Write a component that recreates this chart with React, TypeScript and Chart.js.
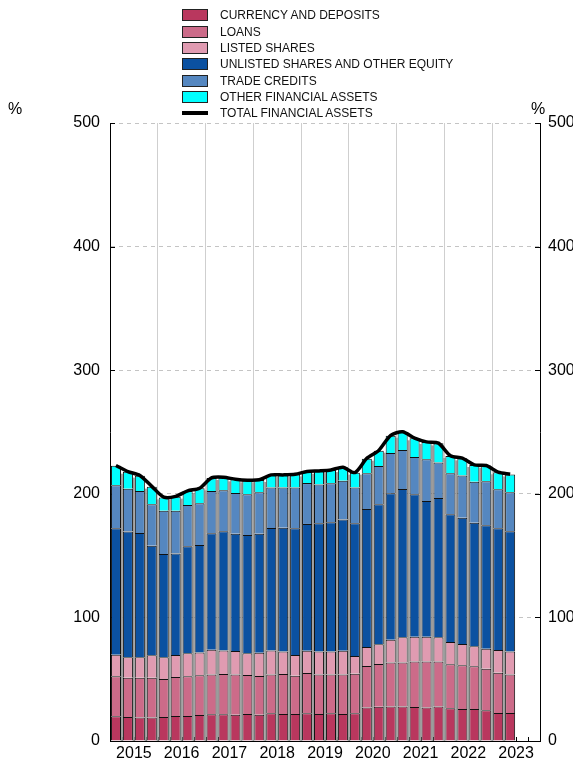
import React, { useEffect, useRef } from 'react';
import { Chart, registerables } from 'chart.js';
Chart.register(...registerables);

const quarters = [
  '2015Q1','2015Q2','2015Q3','2015Q4','2016Q1','2016Q2','2016Q3','2016Q4',
  '2017Q1','2017Q2','2017Q3','2017Q4','2018Q1','2018Q2','2018Q3','2018Q4',
  '2019Q1','2019Q2','2019Q3','2019Q4','2020Q1','2020Q2','2020Q3','2020Q4',
  '2021Q1','2021Q2','2021Q3','2021Q4','2022Q1','2022Q2','2022Q3','2022Q4',
  '2023Q1','2023Q2',
];
const yearLabels = ['2015','2016','2017','2018','2019','2020','2021','2022','2023'];
const yTicks = [0, 100, 200, 300, 400, 500];

const currency = [20.0,19.4,19.1,19.1,19.4,20.2,20.2,21.0,21.6,21.6,21.3,21.8,21.3,22.4,21.8,21.8,22.4,21.8,22.4,21.8,22.4,27.2,27.8,28.0,28.0,27.5,27.2,28.0,26.4,25.9,25.9,24.8,22.6,22.6];
const loans = [32.3,31.8,32.1,32.1,30.8,31.6,32.1,32.1,32.3,32.6,32.6,31.6,31.3,31.5,32.4,31.0,32.6,32.1,31.5,32.1,32.1,33.5,34.5,35.6,35.6,36.9,37.2,36.4,35.6,35.3,34.5,33.7,32.7,31.3];
const listed = [17.5,16.5,16.5,18.1,17.5,17.8,18.6,18.6,20.0,19.1,18.9,17.5,18.9,19.4,18.3,16.8,18.1,18.6,18.6,19.2,14.3,15.3,15.9,18.4,20.3,20.0,20.0,19.5,18.1,17.3,16.2,16.2,18.3,18.6];
const unlisted = [102.3,101.7,100.6,88.7,83.6,82.2,86.6,86.9,94.1,96.3,94.9,95.8,96.2,99.0,100.1,102.5,102.5,103.6,104.4,106.2,107.3,111.7,113.3,118.4,120.0,115.2,109.8,112.7,103.3,102.2,100.0,99.8,98.5,97.1];
const trade = [34.8,34.7,34.0,33.5,35.0,34.5,33.4,33.7,34.3,33.2,32.9,32.9,33.5,32.7,32.4,32.9,33.1,31.5,31.6,31.3,28.9,28.9,31.0,32.6,31.5,30.2,33.7,28.8,33.2,34.2,33.2,35.6,31.5,31.6];
const other = [15.8,13.8,12.4,14.3,10.8,11.4,11.4,12.1,10.5,10.5,11.1,11.3,10.0,10.2,10.2,10.7,9.2,10.8,10.7,10.8,12.1,11.8,12.4,14.0,14.6,15.1,14.0,15.4,14.0,13.8,13.5,12.7,13.8,14.5];
const total = [222.9,218.0,214.8,206.0,197.3,197.9,202.4,204.5,212.9,213.4,211.8,211.0,211.3,215.3,215.3,215.8,218.0,218.5,219.3,221.5,217.2,228.7,235.1,247.3,250.2,245.0,242.0,241.0,230.8,228.8,223.4,222.9,217.5,215.8];

const series = [
  { label: 'CURRENCY AND DEPOSITS', data: currency, color: '#B9375E' },
  { label: 'LOANS', data: loans, color: '#CC6B89' },
  { label: 'LISTED SHARES', data: listed, color: '#E09BB1' },
  { label: 'UNLISTED SHARES AND OTHER EQUITY', data: unlisted, color: '#0B51A1' },
  { label: 'TRADE CREDITS', data: trade, color: '#5587C0' },
  { label: 'OTHER FINANCIAL ASSETS', data: other, color: '#00FFFF' },
];
const totalLabel = 'TOTAL FINANCIAL ASSETS';

const FONT = '"Liberation Sans", Arial, sans-serif';

export default function App() {
  const ref = useRef<HTMLCanvasElement>(null);

  useEffect(() => {
    const canvas = ref.current!;
    const pts = (arr: number[]) => arr.map((v, i) => ({ x: i + 0.5, y: v }));

    const decor = {
      id: 'decor',
      beforeDatasetsDraw(chart: any) {
        const c = chart.ctx;
        const area = chart.chartArea;
        const xs = chart.scales.x;
        const ys = chart.scales.y;
        c.save();
        c.strokeStyle = '#000';
        c.lineWidth = 1;
        for (let k = 1; k < 36; k++) {
          const px = Math.round(xs.getPixelForValue(k)) + 0.5;
          c.beginPath();
          c.moveTo(px, area.bottom);
          c.lineTo(px, area.bottom - 4);
          c.stroke();
        }
        yTicks.forEach((v) => {
          const py = Math.round(ys.getPixelForValue(v)) + 0.5;
          c.beginPath();
          c.moveTo(area.left, py);
          c.lineTo(area.left + 5, py);
          c.moveTo(area.right, py);
          c.lineTo(area.right - 5, py);
          c.stroke();
        });
        const metas = chart.getSortedVisibleDatasetMetas().filter((m: any) => m.type === 'bar');
        const topMeta = metas[metas.length - 1];
        const els = topMeta.data;
        c.fillStyle = '#9c9c9c';
        for (let i = 0; i < els.length; i++) {
          const e = els[i];
          const left = i === 0 ? area.left + 1 : els[i - 1].x + els[i - 1].width / 2;
          const right = e.x - e.width / 2;
          if (right <= left) continue;
          const top = i === 0 ? e.y : Math.max(e.y, els[i - 1].y);
          c.fillRect(left, top + 2, right - left, area.bottom - top - 2);
        }
        c.restore();
      },
      afterDraw(chart: any) {
        const c = chart.ctx;
        c.save();
        c.fillStyle = '#000';
        c.font = `16px ${FONT}`;
        c.textAlign = 'center';
        c.textBaseline = 'middle';
        c.fillText('%', 15, 110);
        c.fillText('%', 538, 110);
        c.restore();
      },
    };

    const datasets: any[] = [
      {
        type: 'line',
        label: totalLabel,
        data: pts(total),
        borderColor: '#000',
        borderWidth: 3.5,
        pointRadius: 0,
        tension: 0.25,
        fill: false,
        xAxisID: 'x',
        yAxisID: 'y',
      },
      ...series.map((s) => ({
        type: 'bar',
        label: s.label,
        data: pts(s.data),
        backgroundColor: s.color,
        borderColor: '#111',
        borderWidth: 1,
        barPercentage: 0.84,
        categoryPercentage: 1,
        xAxisID: 'x',
        yAxisID: 'y',
      })),
    ];

    const chart = new Chart(canvas, {
      type: 'bar',
      data: { labels: quarters, datasets },
      options: {
        animation: false,
        responsive: false,
        devicePixelRatio: 1,
        layout: { padding: { top: 123, left: 0, right: 0, bottom: 0 } },
        plugins: { legend: { display: false }, tooltip: { enabled: false } },
        scales: {
          x: {
            type: 'linear',
            min: 0,
            max: 36,
            offset: false,
            stacked: true,
            afterBuildTicks: (s: any) => {
              s.ticks = yearLabels.map((_, i) => ({ value: 2 + 4 * i }));
            },
            afterFit: (s: any) => { s.height = 20; },
            ticks: {
              callback: (_v: any, i: number) => yearLabels[i],
              autoSkip: false,
              maxRotation: 0,
              padding: 3,
              color: '#000',
              font: { family: FONT, size: 16 },
            },
            grid: { offset: true, color: '#cfcfcf', drawTicks: false },
            border: { color: '#000', width: 1 },
          },
          y: {
            type: 'linear',
            position: 'left',
            min: 0,
            max: 500,
            stacked: true,
            afterFit: (s: any) => { s.width = 110; },
            ticks: { stepSize: 100, padding: 10, color: '#000', font: { family: FONT, size: 16 } },
            grid: { color: '#c4c4c4', drawTicks: false },
            border: { color: '#000', width: 1, dash: [4, 4] },
          },
          y2: {
            type: 'linear',
            position: 'right',
            min: 0,
            max: 500,
            afterFit: (s: any) => { s.width = 33; },
            ticks: { stepSize: 100, padding: 8, color: '#000', font: { family: FONT, size: 16 } },
            grid: { drawOnChartArea: false, drawTicks: false },
            border: { color: '#000', width: 1 },
          },
        },
      } as any,
      plugins: [decor],
    });
    return () => chart.destroy();
  }, []);

  const rowY = [15, 31.5, 48, 64.3, 80.7, 97, 113.3];

  return (
    <div style={{ position: 'absolute', left: 0, top: 0, width: 573, height: 761, background: '#fff', overflow: 'hidden' }}>
      <canvas ref={ref} width={573} height={761} style={{ position: 'absolute', left: 0, top: 0, width: 573, height: 761 }} />
      {series.map((s, i) => (
        <div key={s.label} style={{ position: 'absolute', left: 182, top: rowY[i] - 7, height: 14, display: 'flex', alignItems: 'center' }}>
          <div style={{ width: 24, height: 10, background: s.color, border: '1px solid #222' }} />
          <span style={{ marginLeft: 12, font: `12px ${FONT}`, color: '#111', whiteSpace: 'nowrap' }}>{s.label}</span>
        </div>
      ))}
      <div style={{ position: 'absolute', left: 182, top: rowY[6] - 7, height: 14, display: 'flex', alignItems: 'center' }}>
        <div style={{ width: 26, height: 4, background: '#000' }} />
        <span style={{ marginLeft: 12, font: `12px ${FONT}`, color: '#111', whiteSpace: 'nowrap' }}>{totalLabel}</span>
      </div>
    </div>
  );
}
